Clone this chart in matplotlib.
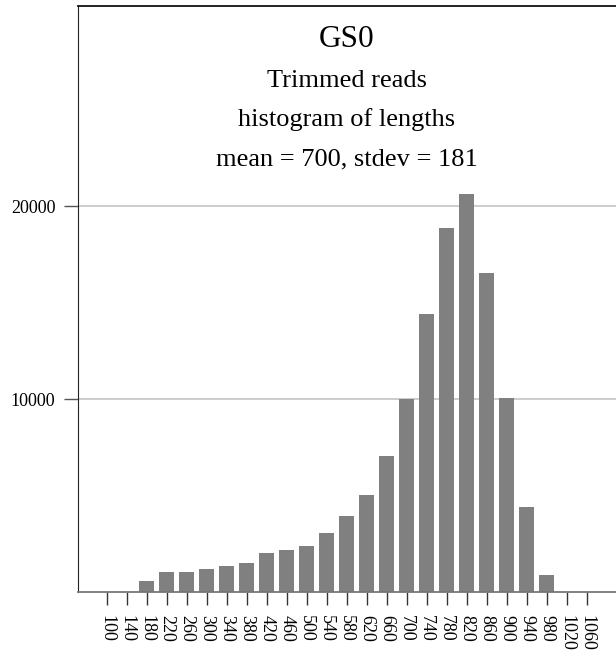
import matplotlib
matplotlib.use("Agg")
import matplotlib.pyplot as plt

# histogram bins (read length, bin centre) and counts
lengths = [100, 140, 180, 220, 260, 300, 340, 380, 420, 460, 500, 540, 580,
           620, 660, 700, 740, 780, 820, 860, 900, 940, 980, 1020, 1060]
counts = [0, 0, 570, 1040, 1040, 1190, 1350, 1500, 2020, 2180, 2380, 3060,
          3950, 5040, 7060, 10010, 14420, 18880, 20640, 16550, 10070, 4420,
          900, 40, 0]
ytick_vals = [10000, 20000]
title_lines = ["Trimmed reads", "histogram of lengths", "mean = 700, stdev = 181"]

plt.rcParams["font.family"] = ["Liberation Serif", "DejaVu Serif"]

fig = plt.figure(figsize=(6.16, 6.56), dpi=100)
ax = fig.add_axes([77.5 / 616, 1 - 592.3 / 656, (616 - 77.5) / 616, (592.3 - 6) / 656])

ax.bar(lengths, counts, width=30, color="#808080", zorder=2)

ax.set_xlim(41.6, 1118.6)
ax.set_ylim(0, 30380)

ax.set_xticks(lengths)
ax.set_xticklabels([str(v) for v in lengths], rotation=270, fontsize=13)
ax.set_yticks(ytick_vals)
ax.set_yticklabels([str(v) for v in ytick_vals], fontsize=13)
ax.tick_params(axis="x", length=9, width=1, color="#333333", pad=7)
ax.tick_params(axis="y", length=10, width=1, color="#555555", pad=6)

ax.grid(True, axis="y", color="#c8c8c8", lw=1.3, zorder=0)
ax.set_axisbelow(True)

ax.spines["right"].set_visible(False)
ax.spines["left"].set_color("#222222")
ax.spines["top"].set_color("#111111")
ax.spines["top"].set_linewidth(1.3)
ax.spines["bottom"].set_color("#777777")
ax.spines["bottom"].set_linewidth(1.3)

# title block inside the axes
cx = (77.5 + 616) / 2 / 616
fig.text(cx, 1 - 46.7 / 656, "GS0", ha="center", va="baseline", fontsize=22.5)
for i, line in enumerate(title_lines):
    fig.text(cx, 1 - (86.7 + 39.5 * i) / 656, line, ha="center",
             va="baseline", fontsize=19)

fig.savefig("out.png", dpi=100)
